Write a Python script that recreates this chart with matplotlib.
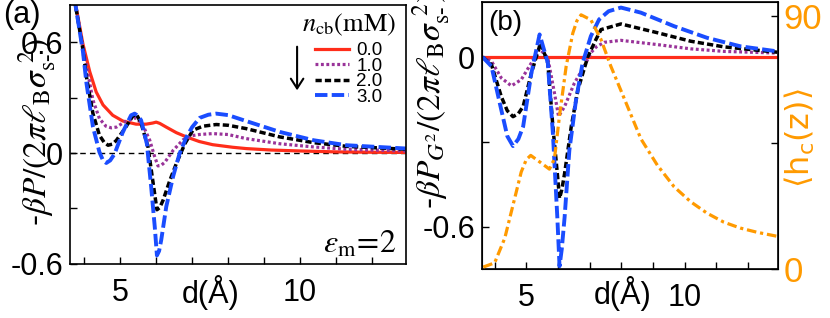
import numpy as np
import matplotlib.pyplot as plt
import matplotlib.ticker as mticker

plt.rcParams['font.family'] = ['Liberation Sans', 'DejaVu Sans']
plt.rcParams['mathtext.fontset'] = 'stix'

RED = "#ff2d1a"
PURPLE = "#993399"
BLUE = "#1a4dff"
ORANGE = "#ff9a00"

# panel (a): -beta P / (2 pi lB sigma^2) vs d (A)
xa_red = [3.62, 3.77, 3.96, 4.15, 4.33, 4.52, 4.79, 5.07, 5.44, 5.72, 5.9, 6.0, 6.1, 6.28, 6.56,
          6.84, 7.2, 7.57, 8.13, 8.5, 9.2, 10.0, 11.0, 12.0, 12.96]
ya_red = [0.95, 0.79, 0.59, 0.44, 0.33, 0.26, 0.204, 0.173, 0.156, 0.156, 0.162, 0.167, 0.16, 0.14, 0.11,
          0.087, 0.062, 0.045, 0.031, 0.024, 0.016, 0.011, 0.006, 0.004, 0.003]

xa_pur = [3.62, 3.77, 3.96, 4.06, 4.24, 4.42, 4.6, 4.75, 4.89, 5.12, 5.35, 5.45, 5.63, 5.82, 5.96,
          6.05, 6.14, 6.24, 6.47, 6.75, 7.0, 7.2, 7.57, 8.0, 8.5, 9.44, 10.37, 11.3, 12.96]
ya_pur = [0.95, 0.78, 0.57, 0.47, 0.286, 0.186, 0.145, 0.136, 0.14, 0.168, 0.185, 0.19, 0.15, 0.069, -0.022,
          -0.07, -0.066, -0.05, 0.014, 0.072, 0.094, 0.1, 0.105, 0.1, 0.078, 0.05, 0.033, 0.02, 0.011]

xa_blk = [3.62, 3.77, 3.96, 4.06, 4.24, 4.42, 4.55, 4.66, 4.78, 4.89, 5.12, 5.35, 5.45, 5.58, 5.77,
          5.91, 6.02, 6.1, 6.19, 6.38, 6.56, 6.8, 7.02, 7.3, 7.67, 8.0, 8.5, 9.44, 10.38, 11.3, 12.98]
ya_blk = [0.95, 0.78, 0.56, 0.41, 0.213, 0.096, 0.058, 0.042, 0.048, 0.068, 0.13, 0.2, 0.21, 0.16, 0.035,
          -0.157, -0.307, -0.295, -0.256, -0.148, -0.057, 0.051, 0.123, 0.145, 0.154, 0.15, 0.132, 0.087,
          0.056, 0.036, 0.02]

xa_blu = [3.62, 3.77, 3.96, 4.06, 4.24, 4.42, 4.52, 4.61, 4.72, 4.84, 5.07, 5.3, 5.4, 5.5, 5.58,
          5.74, 5.86, 5.96, 6.02, 6.08, 6.14, 6.28, 6.47, 6.65, 6.84, 7.0, 7.21, 7.45, 7.67, 8.0,
          8.5, 9.44, 10.38, 11.3, 12.98]
ya_blu = [0.95, 0.78, 0.55, 0.376, 0.141, 0.005, -0.04, -0.054, -0.04, -0.005, 0.113, 0.204, 0.213, 0.2, 0.177,
          0.05, -0.184, -0.4, -0.554, -0.53, -0.47, -0.29, -0.127, -0.003, 0.086, 0.14, 0.19, 0.207, 0.213, 0.205,
          0.173, 0.114, 0.069, 0.042, 0.024]

# panel (b): -beta P_G2 contribution and <h_c(z)>
xb_red = [3.6, 12.95]
yb_red = [0.0, 0.0]

xb_pur = [3.62, 3.9, 4.21, 4.53, 4.84, 5.16, 5.42, 5.68, 5.89, 6.02, 6.21, 6.52, 6.83, 7.04, 7.2,
          7.46, 7.99, 9.14, 10.19, 11.24, 12.93]
yb_pur = [0.0, -0.015, -0.074, -0.102, -0.08, -0.021, 0.029, -0.003, -0.128, -0.21, -0.175, -0.092, -0.033,
          0.015, 0.035, 0.052, 0.059, 0.044, 0.029, 0.02, 0.014]

xb_blk = [3.62, 3.9, 4.21, 4.4, 4.58, 4.75, 4.9, 5.16, 5.45, 5.68, 5.84, 5.98, 6.05, 6.12, 6.21,
          6.42, 6.63, 6.94, 7.2, 7.36, 7.99, 9.14, 10.19, 11.24, 12.93]
yb_blk = [0.0, -0.027, -0.14, -0.19, -0.211, -0.2, -0.175, -0.057, 0.05, -0.021, -0.246, -0.412, -0.5, -0.47,
          -0.412, -0.246, -0.116, 0.0, 0.062, 0.097, 0.117, 0.086, 0.056, 0.036, 0.017]

xb_blu = [3.62, 3.9, 4.21, 4.4, 4.58, 4.75, 4.9, 5.16, 5.42, 5.68, 5.84, 5.98, 6.05, 6.12, 6.21,
          6.36, 6.57, 6.78, 7.04, 7.3, 7.6, 7.99, 8.62, 9.67, 10.71, 11.76, 12.93]
yb_blu = [0.0, -0.033, -0.187, -0.28, -0.315, -0.29, -0.246, -0.057, 0.08, -0.021, -0.27, -0.567, -0.74, -0.68,
          -0.567, -0.33, -0.152, -0.021, 0.074, 0.133, 0.162, 0.175, 0.157, 0.109, 0.068, 0.038, 0.02]

xb_h = [3.64, 4.0, 4.32, 4.58, 4.84, 5.0, 5.14, 5.42, 5.73, 5.89, 6.05, 6.26, 6.47, 6.6, 6.73,
        7.04, 7.36, 7.67, 8.1, 8.62, 9.14, 9.67, 10.19, 10.71, 11.24, 11.76, 12.29, 12.91]
yb_h = [0.7, 2.2, 11, 22.8, 34.6, 39, 40.5, 38.2, 35.6, 39.3, 54.7, 72.3, 84.1, 88.5, 90.6,
        88.8, 81.8, 72.3, 60.6, 46.4, 37, 29.3, 24, 19.9, 16.7, 14.6, 13.1, 11.7]

labels = ["0.0", "1.0", "2.0", "3.0"]

sty = [dict(color=RED, lw=2.3, ls="-"),
       dict(color=PURPLE, lw=2.3, ls=(0, (0.9, 0.8))),
       dict(color="black", lw=2.5, ls=(0, (1.8, 0.9))),
       dict(color=BLUE, lw=2.8, ls=(0, (3.2, 1.1)))]

fig = plt.figure(figsize=(8.3, 3.18), dpi=100)
ax1 = fig.add_axes([0.0843, 0.170, 0.4048, 0.814])
ax2 = fig.add_axes([0.5807, 0.154, 0.3566, 0.840])

for ax in (ax1, ax2):
    ax.set_xlim(3.6, 12.95)
    ax.xaxis.set_major_locator(mticker.MultipleLocator(1))
    ax.xaxis.set_major_formatter(mticker.FuncFormatter(lambda v, p: "%d" % v if round(v) in (5, 10) else ""))
    ax.tick_params(direction="in", length=5, width=1, labelsize=22, top=False, right=False)
    ax.tick_params(axis="x", pad=10)
    ax.tick_params(axis="y", pad=5)
    for s in ax.spines.values():
        s.set_linewidth(1.2)

# panel (a)
ax1.axhline(0, color="black", lw=1, ls=(0, (4, 3)))
for (xx, yy), st, lb in zip([(xa_red, ya_red), (xa_pur, ya_pur), (xa_blk, ya_blk), (xa_blu, ya_blu)], sty, labels):
    ax1.plot(xx, yy, label=lb, **st)
ax1.set_ylim(-0.6, 0.8)
ax1.yaxis.set_major_locator(mticker.MultipleLocator(0.3))
ax1.yaxis.set_major_formatter(mticker.FuncFormatter(
    lambda v, p: {-0.6: "-0.6", 0.0: "0", 0.6: "0.6"}.get(round(v, 1), "")))

leg = ax1.legend(loc="upper left", bbox_to_anchor=(0.69, 0.975), frameon=False, fontsize=13.5,
                 handlelength=1.8, handletextpad=0.4, labelspacing=-0.08, borderpad=0, borderaxespad=0,
                 title=r"$n_{\mathrm{cb}}\mathrm{(mM)}$", title_fontsize=19)
leg._legend_box.sep = 3
ax1.annotate("", xy=(0.676, 0.66), xytext=(0.676, 0.85), xycoords="axes fraction",
             arrowprops=dict(arrowstyle="->,head_length=0.7,head_width=0.45", lw=1.5, color="black"))
ax1.text(0.973, 0.042, r"$\varepsilon_{\mathrm{m}}\!=\!2$", transform=ax1.transAxes,
         ha="right", va="baseline", fontsize=23)
ax1.set_xlabel("d(Å)", fontsize=22)
ax1.xaxis.set_label_coords(0.42, -0.112)
ax1.xaxis.label.set_va("center")

# panel (b)
ax2.plot(xb_red, yb_red, **sty[0])
ax2.plot(xb_pur, yb_pur, **sty[1])
ax2.plot(xb_blk, yb_blk, **sty[2])
ax2.plot(xb_blu, yb_blu, **sty[3])
ax2.set_ylim(-0.75, 0.195)
ax2.yaxis.set_major_locator(mticker.MultipleLocator(0.3))
ax2.yaxis.set_major_formatter(mticker.FuncFormatter(
    lambda v, p: {-0.6: "-0.6", 0.0: "0"}.get(round(v, 1), "")))
ax2.set_xlabel("d(Å)", fontsize=22)
ax2.xaxis.set_label_coords(0.476, -0.09)
ax2.xaxis.label.set_va("center")

ax3 = ax2.twinx()
ax3.plot(xb_h, yb_h, color=ORANGE, lw=2.3, ls=(0, (3, 1.2, 1, 1.2)))
ax3.set_ylim(0, 95.2)
ax3.yaxis.set_major_locator(mticker.MultipleLocator(45))
ax3.yaxis.set_major_formatter(mticker.FuncFormatter(lambda v, p: "%d" % v if round(v) in (0, 90) else ""))
ax3.tick_params(direction="in", length=5, width=1, labelsize=25, labelcolor=ORANGE, pad=4)
ax3.text(1.075, 0.49, r"$\langle \mathrm{h}_{\mathrm{c}}(\mathrm{z})\rangle$", transform=ax2.transAxes,
         rotation=90, ha="center", va="center", fontsize=23, color=ORANGE, math_fontfamily="dejavusans")
ax2.text(0.02, 0.97, "(b)", transform=ax2.transAxes, ha="left", va="top", fontsize=20)

# y labels and panel tag
fig.text(37 / 830, 1 - 132 / 318, r"-$\beta P/(2\pi\ell_{\mathrm{B}}\sigma_{\mathrm{s}\text{-}}^{\ 2})$",
         rotation=90, ha="center", va="center", fontsize=24)
fig.text(431 / 830, 1 - 100 / 318, r"-$\beta P_{G^2}/(2\pi\ell_{\mathrm{B}}\sigma_{\mathrm{s}\text{-}}^{\ 2})$",
         rotation=90, ha="center", va="center", fontsize=24)
fig.text(3 / 830, 1.0, "(a)", ha="left", va="top", fontsize=22)

fig.savefig("out.png", dpi=100)
